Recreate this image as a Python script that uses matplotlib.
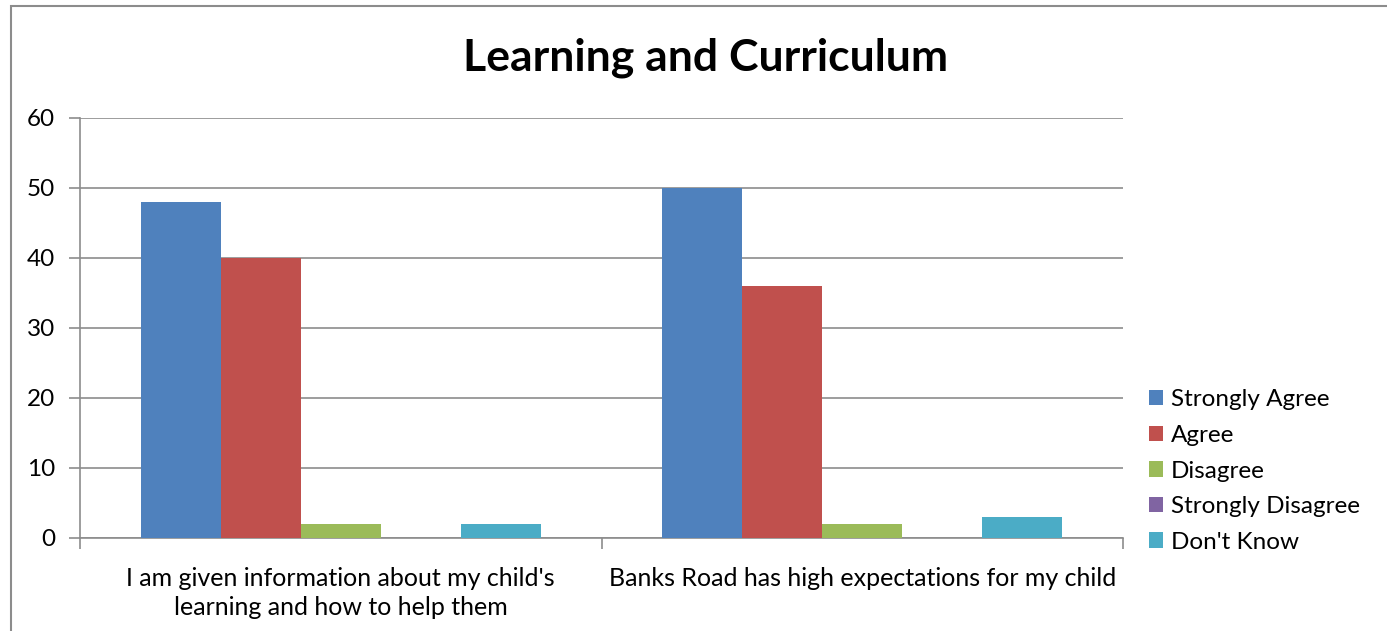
import numpy as np
import matplotlib.pyplot as plt
from matplotlib.patches import Rectangle

categories = ["I am given information about my child's\nlearning and how to help them",
              "Banks Road has high expectations for my child"]
series = ["Strongly Agree", "Agree", "Disagree", "Strongly Disagree", "Don't Know"]
values = {
    "Strongly Agree": [48, 50],
    "Agree": [40, 36],
    "Disagree": [2, 2],
    "Strongly Disagree": [0, 0],
    "Don't Know": [2, 3],
}
colors = ["#4F81BD", "#C0504D", "#9BBB59", "#8064A2", "#4BACC6"]

plt.rcParams['font.family'] = ['Lato', 'DejaVu Sans']

fig = plt.figure(figsize=(13.87, 6.31), dpi=100)
W, H = 1387, 631
ax = fig.add_axes([80 / W, 1 - 538 / H, (1123 - 80) / W, (538 - 118) / H])

# outer chart border (cut off at right and bottom)
fig.patches.append(Rectangle((11 / W, -0.1), 1.2, 1.1 - 6 / H, transform=fig.transFigure,
                             fill=False, edgecolor='#8c8c8c', linewidth=1.5))

x = np.arange(len(categories))
bw = 80 / 521
for i, (name, c) in enumerate(zip(series, colors)):
    offs = (i - 2) * bw
    ax.bar(x + offs, values[name], width=bw, color=c, label=name, zorder=3)

ax.set_xlim(-0.5, 1.5)
ax.set_ylim(0, 60)
ax.set_yticks(range(0, 61, 10))
ax.yaxis.grid(True, color='#8c8c8c', linewidth=1.2, zorder=0)
ax.set_axisbelow(True)
for s in ['top', 'right']:
    ax.spines[s].set_visible(False)
for s in ['left', 'bottom']:
    ax.spines[s].set_color('#8c8c8c')
    ax.spines[s].set_linewidth(1.2)

ax.set_xticks([-0.5, 0.5, 1.5])
ax.set_xticklabels([])
ax.set_xticks(x, minor=True)
ax.set_xticklabels(categories, minor=True, fontsize=18, linespacing=1.3, va='top')
ax.tick_params(axis='x', which='minor', length=0, pad=21)
ax.tick_params(axis='x', which='major', length=8, color='#8c8c8c', width=1.2)
ax.tick_params(axis='y', length=8, color='#8c8c8c', width=1.2, labelsize=17.5, pad=10)

ax.set_title("Learning and Curriculum", fontsize=32, fontweight='bold', pad=34, x=(706 - 80) / (1123 - 80))

leg = fig.legend(loc='center left', bbox_to_anchor=(1139 / W, 1 - 471 / H), frameon=False,
                 fontsize=17.5, handlelength=0.6, handleheight=0.6, handletextpad=0.3,
                 labelspacing=0.6, borderaxespad=0)

fig.savefig("out.png", dpi=100)
